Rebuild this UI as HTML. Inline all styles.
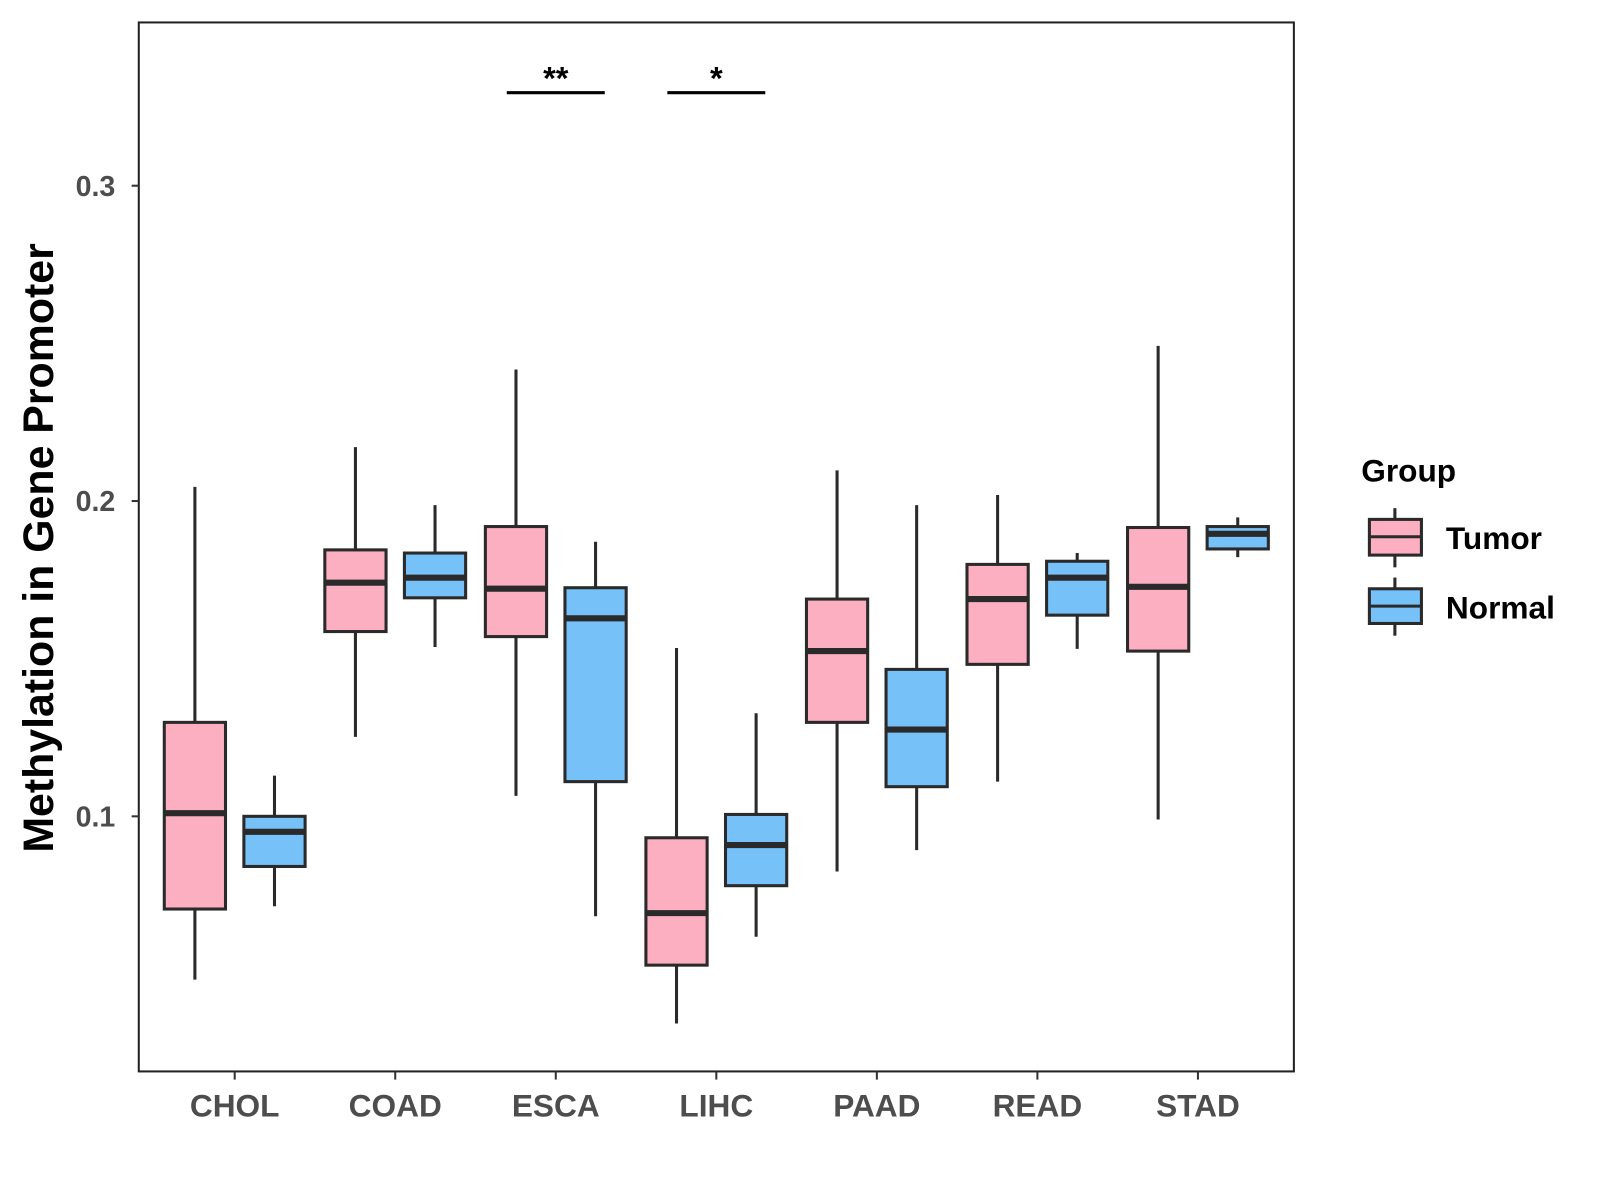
<!DOCTYPE html>
<html><head><meta charset="utf-8"><style>body{margin:0;background:#fff}svg{display:block}text{font-family:"Liberation Sans",Arial,sans-serif;font-weight:bold}</style></head>
<body>
<svg id="chart" width="1600" height="1200" viewBox="0 0 1568 1176" xmlns="http://www.w3.org/2000/svg">
<rect x="136" y="22" width="1132" height="1028" fill="#fff" stroke="#222" stroke-width="2"/>
<g id="marks"></g>
<text transform="translate(52,537) rotate(-90)" text-anchor="middle" font-size="42" fill="#000">Methylation in Gene Promoter</text>
<g>
<text x="1334" y="472" font-size="31" fill="#000">Group</text>
<g>
<line x1="1367" y1="498" x2="1367" y2="556" stroke="#2a2a2a" stroke-width="3"/>
<rect x="1342" y="509" width="51" height="35" fill="#FBAFC1" stroke="#2a2a2a" stroke-width="3"/>
<line x1="1342" y1="526" x2="1393" y2="526" stroke="#2a2a2a" stroke-width="3"/>
<text x="1417" y="538" font-size="31" fill="#000">Tumor</text></g>
<g>
<line x1="1367" y1="566" x2="1367" y2="623" stroke="#2a2a2a" stroke-width="3"/>
<rect x="1342" y="577" width="51" height="34" fill="#76C1F8" stroke="#2a2a2a" stroke-width="3"/>
<line x1="1342" y1="594" x2="1393" y2="594" stroke="#2a2a2a" stroke-width="3"/>
<text x="1417" y="606" font-size="31" fill="#000">Normal</text></g>
</g>
</svg>
<script>
const categories=["CHOL","COAD","ESCA","LIHC","PAAD","READ","STAD"];
const tumorLow=[.0482,.1252,.1065,.0343,.0825,.1110,.0990];
const tumorQ1=[.0706,.1586,.1570,.0528,.1298,.1482,.1524];
const tumorMed=[.1010,.1741,.1722,.0693,.1524,.1689,.1728];
const tumorQ3=[.1298,.1845,.1919,.0932,.1689,.1799,.1916];
const tumorHigh=[.2045,.2171,.2417,.1534,.2097,.2019,.2492];
const normalLow=[.0715,.1537,.0683,.0618,.0893,.1531,.1822];
const normalQ1=[.0841,.1693,.1110,.0780,.1094,.1638,.1848];
const normalMed=[.0951,.1757,.1628,.0909,.1275,.1757,.1896];
const normalQ3=[.1000,.1835,.1725,.1006,.1466,.1809,.1919];
const normalHigh=[.1129,.1987,.1871,.1327,.1987,.1835,.1948];
const yTicks=[0.1,0.2,0.3];
const yTickLabels=["0.1","0.2","0.3"];
const sigCategories=["ESCA","LIHC"];
const sigLabels=["**","*"];
const sigValue=0.3295;

const NS="http://www.w3.org/2000/svg";
const g=document.getElementById('marks');
const y=v=>800-(v-0.1)*3090;
const x=i=>230+i*157.33;
function el(t,a,p){const e=document.createElementNS(NS,t);for(const k in a)e.setAttribute(k,a[k]);(p||g).appendChild(e);return e;}
yTicks.forEach((t,i)=>{
 const l=el('line',{x1:129,x2:136,y1:y(t),y2:y(t),stroke:'#333','stroke-width':2});
 
 
 const tx=el('text',{x:113,y:y(t)+10,'text-anchor':'end','font-size':28,fill:'#4d4d4d'});
 tx.textContent=yTickLabels[i];
 
 
});
categories.forEach((c,i)=>{
 const l=el('line',{x1:x(i),x2:x(i),y1:1050,y2:1058,stroke:'#333','stroke-width':2});
 
 
 const tx=el('text',{x:x(i),y:1094,'text-anchor':'middle','font-size':31,fill:'#4d4d4d'});
 tx.textContent=c;
 
 
});
function box(cx,lo,q1,md,q3,hi,fill,name){
 const gg=el('g',{});
 
 
 el('line',{x1:cx,x2:cx,y1:y(hi),y2:y(lo),stroke:'#2a2a2a','stroke-width':3},gg);
 el('rect',{x:cx-30,y:y(q3),width:60,height:y(q1)-y(q3),fill:fill,stroke:'#2a2a2a','stroke-width':3},gg);
 el('line',{x1:cx-30,x2:cx+30,y1:y(md),y2:y(md),stroke:'#2a2a2a','stroke-width':6},gg);
}
categories.forEach((c,i)=>{
 box(x(i)-39,tumorLow[i],tumorQ1[i],tumorMed[i],tumorQ3[i],tumorHigh[i],'#FBAFC1','box-tumor-'+c.toLowerCase());
 box(x(i)+39,normalLow[i],normalQ1[i],normalMed[i],normalQ3[i],normalHigh[i],'#76C1F8','box-normal-'+c.toLowerCase());
});
sigCategories.forEach((c,k)=>{
 const i=categories.indexOf(c);
 const l=el('line',{x1:x(i)-48,x2:x(i)+48,y1:y(sigValue),y2:y(sigValue),stroke:'#000','stroke-width':3});
 
 
 const t=el('text',{x:x(i),y:y(sigValue)-3,'text-anchor':'middle','font-size':32,fill:'#000'});
 t.textContent=sigLabels[k];
 
 
});
</script>
</body></html>
